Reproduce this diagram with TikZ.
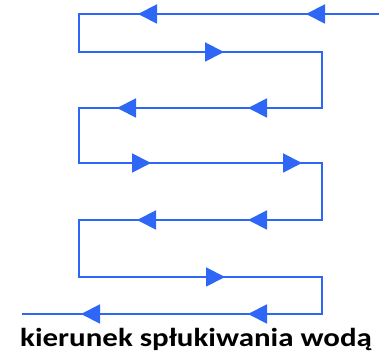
\documentclass[tikz,border=0pt]{standalone}
\usepackage{fontspec}
\setmainfont{Carlito}
\usetikzlibrary{arrows.meta}
\definecolor{flowblue}{RGB}{46,102,246}
\tikzset{
  pipe/.style={draw=flowblue, line width=1.9pt, line join=miter},
  flow/.style={pipe, -{Triangle[length=19pt, width=19pt]}},
  caption/.style={font=\bfseries\fontsize{26}{30}\selectfont, text=black, inner sep=0pt, anchor=base}
}
\begin{document}
\begin{tikzpicture}[x=1pt, y=1pt]
\useasboundingbox (0,0) rectangle (388,355);
% row 1
\coordinate (s) at (379,341);
\coordinate (t1) at (306,341);
\coordinate (t2) at (138,341);
\coordinate (c1) at (79,341);
% row 2
\coordinate (c2) at (79,303);
\coordinate (t3) at (224,303);
\coordinate (c3) at (322,303);
% row 3
\coordinate (c4) at (322,247);
\coordinate (t4) at (248,247);
\coordinate (t5) at (117,247);
\coordinate (c5) at (79,247);
% row 4
\coordinate (c6) at (79,192);
\coordinate (t6) at (151,192);
\coordinate (t7) at (302,192);
\coordinate (c7) at (322,192);
% row 5
\coordinate (c8) at (322,135);
\coordinate (t8) at (248,135);
\coordinate (t9) at (137,135);
\coordinate (c9) at (79,135);
% row 6
\coordinate (c10) at (79,78);
\coordinate (t10) at (225,78);
\coordinate (c11) at (322,78);
% row 7
\coordinate (c12) at (322,41);
\coordinate (t11) at (248,41);
\coordinate (t12) at (81,41);
\coordinate (e) at (22,41);

\draw[pipe] (s) -- (c1) -- (c2) -- (c3) -- (c4) -- (c5) -- (c6) -- (c7) -- (c8) -- (c9) -- (c10) -- (c11) -- (c12) -- (e);
\draw[flow] (s) -- (t1);
\draw[flow] (t1) -- (t2);
\draw[flow] (c2) -- (t3);
\draw[flow] (c4) -- (t4);
\draw[flow] (t4) -- (t5);
\draw[flow] (c6) -- (t6);
\draw[flow] (t6) -- (t7);
\draw[flow] (c8) -- (t8);
\draw[flow] (t8) -- (t9);
\draw[flow] (c10) -- (t10);
\draw[flow] (c12) -- (t11);
\draw[flow] (t11) -- (t12);

\node[caption] (cap) at (196,8) {\scalebox{1.19}[1]{kierunek spłukiwania wodą}};
\end{tikzpicture}
\end{document}
